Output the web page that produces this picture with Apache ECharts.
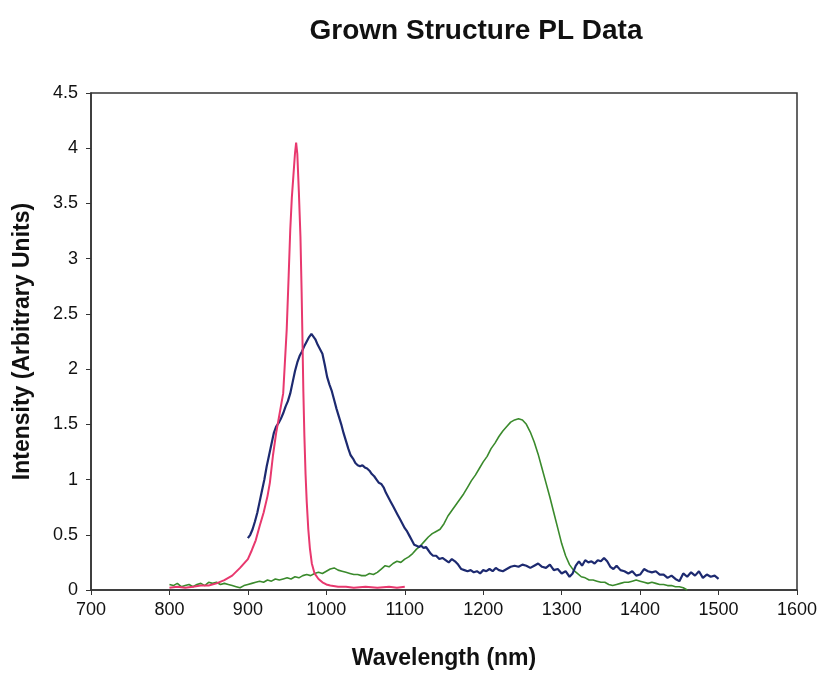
<!DOCTYPE html>
<html><head><meta charset="utf-8">
<script src="https://cdn.jsdelivr.net/npm/echarts@6/dist/echarts.min.js"></script>
<style>html,body{margin:0;padding:0;background:#fff}#c{width:823px;height:675px}</style>
</head><body><div id="c"></div>
<script>
const xTicks = [700, 800, 900, 1000, 1100, 1200, 1300, 1400, 1500, 1600];
const yTicks = [0, 0.5, 1, 1.5, 2, 2.5, 3, 3.5, 4, 4.5];

const redWl = [800,810,820,830,840,850,860,870,880,890,900,905,910,915,920,925,928,932,936,940,945,949.5,952,954,956,958,960,961.5,963,965,967,968.5,969.5,970.7,972,973.5,975,977,979,981.5,985,990,995,1000,1005,1015,1025,1035,1050,1065,1080,1090,1100];
const redVal = [0.02,0.03,0.02,0.03,0.04,0.04,0.06,0.09,0.13,0.20,0.28,0.36,0.45,0.58,0.70,0.85,0.97,1.22,1.42,1.58,1.78,2.36,2.85,3.26,3.55,3.75,3.95,4.05,3.95,3.60,3.20,2.70,2.30,1.80,1.40,1.05,0.80,0.55,0.38,0.24,0.15,0.10,0.07,0.05,0.04,0.03,0.03,0.02,0.03,0.02,0.03,0.02,0.03];

const blueWl = [900,903,906,909,912,915,918,921,924,927,930,933,936,939,942,945,948,951,954,957,960,963,966,969,972,975,978,981,983,986,989,992,995,998,1001,1004,1007,1010,1013,1016,1019,1022,1025,1028,1031,1034,1037,1040,1043,1046,1049,1052,1055,1058,1061,1064,1067,1070,1073,1076,1079,1082,1085,1088,1091,1094,1097,1100,1103,1106,1109,1112,1115,1118,1121,1124,1127,1130,1133,1136,1140,1144,1148,1152,1156,1160,1164,1168,1172,1176,1180,1184,1188,1192,1196,1200,1204,1208,1212,1216,1220,1225,1230,1235,1240,1245,1250,1255,1260,1265,1270,1275,1280,1285,1290,1295,1300,1305,1310,1314,1318,1322,1326,1330,1334,1338,1342,1346,1350,1354,1358,1362,1366,1370,1375,1380,1385,1390,1395,1400,1405,1410,1415,1420,1425,1430,1435,1440,1445,1450,1455,1460,1465,1470,1475,1480,1485,1490,1495,1500];
const blueVal = [0.47,0.50,0.55,0.62,0.70,0.80,0.90,1.00,1.12,1.22,1.32,1.42,1.48,1.51,1.55,1.60,1.66,1.71,1.78,1.88,1.98,2.06,2.12,2.16,2.21,2.25,2.29,2.32,2.31,2.27,2.22,2.18,2.14,2.04,1.93,1.86,1.80,1.72,1.64,1.57,1.50,1.42,1.35,1.28,1.22,1.19,1.15,1.13,1.12,1.13,1.11,1.10,1.08,1.05,1.03,1.00,0.97,0.96,0.93,0.88,0.84,0.80,0.76,0.72,0.68,0.64,0.60,0.56,0.53,0.49,0.45,0.41,0.40,0.39,0.40,0.38,0.39,0.36,0.33,0.31,0.31,0.28,0.29,0.27,0.25,0.28,0.26,0.23,0.19,0.18,0.17,0.18,0.16,0.17,0.15,0.18,0.17,0.19,0.17,0.20,0.18,0.17,0.19,0.21,0.22,0.21,0.23,0.22,0.20,0.22,0.24,0.21,0.20,0.23,0.18,0.19,0.15,0.17,0.12,0.15,0.22,0.26,0.22,0.27,0.25,0.26,0.24,0.27,0.26,0.29,0.26,0.21,0.19,0.22,0.18,0.17,0.15,0.17,0.13,0.14,0.19,0.17,0.16,0.17,0.14,0.14,0.11,0.13,0.10,0.08,0.15,0.12,0.16,0.13,0.17,0.11,0.14,0.12,0.13,0.10];

const greenWl = [800,805,810,815,820,825,830,835,840,845,850,855,860,865,870,875,880,885,890,895,900,905,910,915,920,925,930,935,940,945,950,955,960,965,970,975,980,985,990,995,1000,1005,1010,1015,1020,1025,1030,1035,1040,1045,1050,1055,1060,1065,1070,1075,1080,1085,1090,1095,1100,1105,1110,1115,1120,1125,1130,1135,1140,1145,1150,1155,1160,1165,1170,1175,1180,1185,1190,1195,1200,1205,1210,1215,1220,1225,1230,1235,1240,1245,1250,1255,1260,1265,1270,1275,1280,1285,1290,1295,1300,1305,1310,1315,1320,1325,1330,1335,1340,1345,1350,1355,1360,1365,1370,1375,1380,1385,1390,1395,1400,1405,1410,1415,1420,1425,1430,1435,1440,1445,1450,1455,1460];
const greenVal = [0.05,0.04,0.06,0.03,0.04,0.05,0.03,0.05,0.06,0.04,0.07,0.06,0.07,0.05,0.06,0.05,0.04,0.03,0.02,0.04,0.05,0.06,0.07,0.08,0.07,0.09,0.08,0.10,0.09,0.10,0.11,0.10,0.12,0.11,0.13,0.14,0.13,0.15,0.16,0.15,0.17,0.19,0.20,0.18,0.17,0.16,0.15,0.14,0.14,0.13,0.13,0.15,0.14,0.16,0.19,0.22,0.21,0.24,0.26,0.25,0.28,0.30,0.33,0.37,0.40,0.44,0.48,0.51,0.53,0.55,0.60,0.67,0.72,0.77,0.82,0.87,0.93,0.99,1.04,1.10,1.16,1.21,1.28,1.33,1.39,1.44,1.48,1.52,1.54,1.55,1.54,1.50,1.43,1.34,1.23,1.10,0.97,0.84,0.70,0.56,0.42,0.31,0.23,0.18,0.15,0.12,0.11,0.09,0.09,0.08,0.07,0.07,0.05,0.04,0.05,0.06,0.07,0.07,0.08,0.09,0.08,0.07,0.06,0.07,0.06,0.05,0.05,0.04,0.04,0.03,0.03,0.02,0.00];

function pairs(xs, ys) { return xs.map((x, i) => [x, ys[i]]); }

const chart = echarts.init(document.getElementById('c'), null, {renderer: 'canvas'});
const font = 'Liberation Sans, Arial, sans-serif';
chart.setOption({
  animation: false,
  backgroundColor: '#fff',
  title: {
    text: 'Grown Structure PL Data',
    left: 471, top: 12, textAlign: 'center',
    textStyle: {fontFamily: font, fontSize: 28, fontWeight: 'bold', color: '#111'}
  },
  grid: {left: 91, right: 26, top: 93, bottom: 84, show: true, borderColor: '#333', borderWidth: 1.5, containLabel: false},
  xAxis: {
    type: 'value', min: xTicks[0], max: xTicks[xTicks.length - 1], interval: 100,
    name: 'Wavelength (nm)', nameLocation: 'middle', nameGap: 57,
    nameTextStyle: {fontFamily: font, fontSize: 23, fontWeight: 'bold', color: '#111'},
    axisLine: {lineStyle: {color: '#333', width: 1.5}},
    axisTick: {show: true, inside: false, length: 5, lineStyle: {color: '#333'}},
    axisLabel: {fontFamily: font, fontSize: 18, color: '#111', margin: 11, formatter: v => String(v)},
    splitLine: {show: false}
  },
  yAxis: {
    type: 'value', min: yTicks[0], max: yTicks[yTicks.length - 1], interval: 0.5,
    name: 'Intensity (Arbitrary Units)', nameLocation: 'middle', nameGap: 57, nameRotate: 90,
    nameTextStyle: {fontFamily: font, fontSize: 23, fontWeight: 'bold', color: '#111'},
    axisLine: {lineStyle: {color: '#333', width: 1.5}},
    axisTick: {show: true, inside: false, length: 5, lineStyle: {color: '#333'}},
    axisLabel: {fontFamily: font, fontSize: 18, color: '#111', margin: 13},
    splitLine: {show: false}
  },
  series: [
    {type: 'line', data: pairs(redWl, redVal), showSymbol: false, lineStyle: {color: '#e8386e', width: 2}, z: 3},
    {type: 'line', data: pairs(blueWl, blueVal), showSymbol: false, lineStyle: {color: '#1d2a70', width: 2.2}, z: 2},
    {type: 'line', data: pairs(greenWl, greenVal), showSymbol: false, lineStyle: {color: '#3a8a2c', width: 1.6}, z: 1}
  ]
});
</script></body></html>
